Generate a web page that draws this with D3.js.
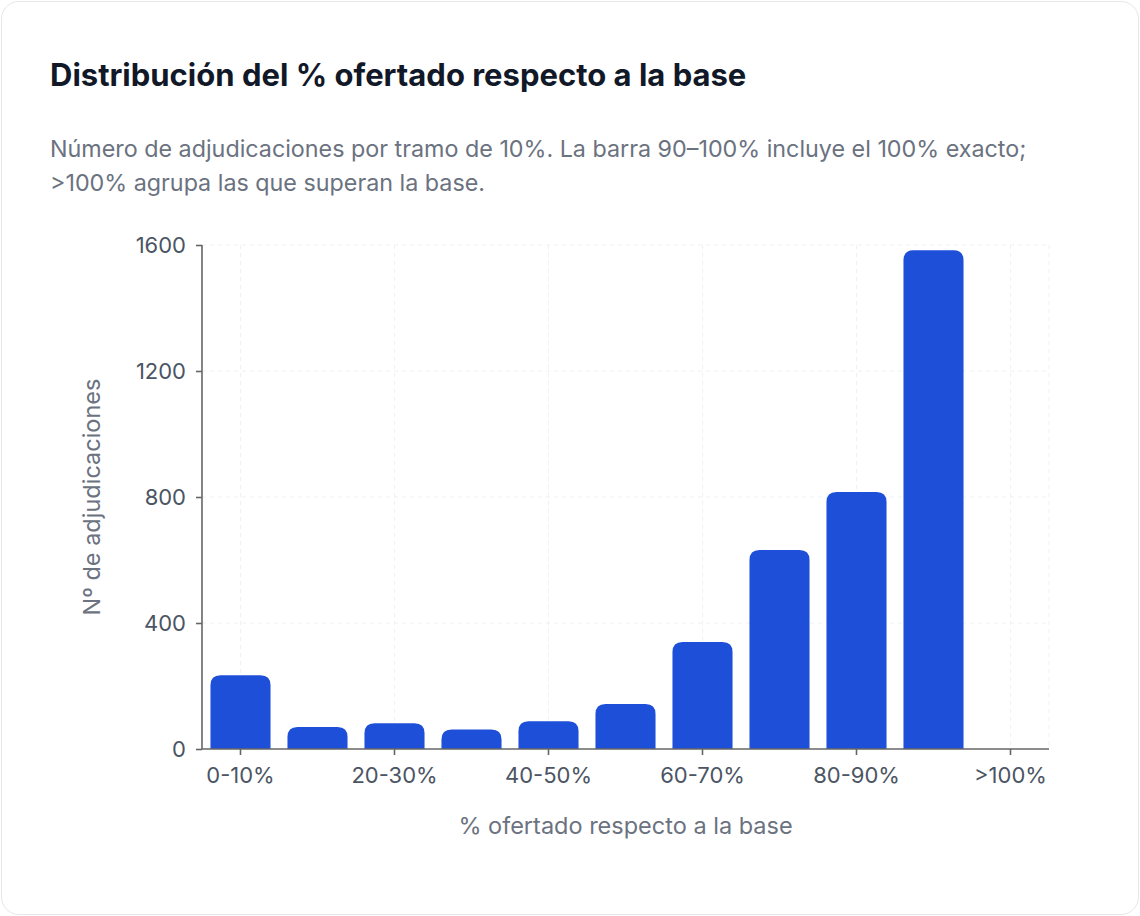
<!DOCTYPE html>
<html>
<head>
    <meta charset="utf-8">
    <title>Distribución del % ofertado</title>
    <script src="https://cdnjs.cloudflare.com/ajax/libs/d3/7.8.5/d3.min.js"></script>
</head>
<body>
<style>
    html, body {
        margin: 0;
        background: #fff;
        font-family: Inter, "Noto Sans", sans-serif;
    }
    .card {
        position: absolute;
        left: 1px; top: 1px;
        width: 1136px; height: 912px;
        border: 1px solid #e5e7eb;
        border-radius: 18px;
        background: #fff;
    }
    .axis text { font-family: Inter, sans-serif; }
</style>
<div class="card"></div>
<script>
    const categories = ["0-10%", "10-20%", "20-30%", "30-40%", "40-50%", "50-60%",
        "60-70%", "70-80%", "80-90%", "90-100%", ">100%"];
    const counts = [234, 70, 82, 62, 88, 143, 340, 632, 816, 1583, 0];
    const yTicks = [0, 400, 800, 1200, 1600];
    const shownLabels = ["0-10%", "20-30%", "40-50%", "60-70%", "80-90%", ">100%"];

    const W = 1140, H = 916;
    const margin = {left: 202, right: 91, top: 245, bottom: 167};

    const svg = d3.select("body").append("svg")
        .attr("width", W).attr("height", H)
        .style("position", "absolute").style("left", 0).style("top", 0);

    svg.append("text").attr("x", 50).attr("y", 86)
        .attr("font-size", 31).attr("font-weight", 700).attr("fill", "#111827")
        .text("Distribución del % ofertado respecto a la base");

    const sub = svg.append("text").attr("font-size", 23.3).attr("fill", "#6b7280");
    sub.append("tspan").attr("x", 50).attr("y", 157)
        .text("Número de adjudicaciones por tramo de 10%. La barra 90–100% incluye el 100% exacto;");
    sub.append("tspan").attr("x", 50).attr("y", 191)
        .text(">100% agrupa las que superan la base.");

    const x = d3.scaleBand().domain(categories)
        .range([margin.left, W - margin.right])
        .paddingInner(0.22).paddingOuter(0.11);
    const y = d3.scaleLinear().domain([0, 1600])
        .range([H - margin.bottom, margin.top]);

    const g = svg.append("g");

    // grid
    g.selectAll(".hgrid").data(yTicks.slice(1)).enter().append("line")
        .attr("x1", margin.left).attr("x2", W - margin.right)
        .attr("y1", d => y(d)).attr("y2", d => y(d))
        .attr("stroke", "#eef0f3").attr("stroke-dasharray", "4 4");
    g.selectAll(".vgrid").data(shownLabels).enter().append("line")
        .attr("x1", d => x(d) + x.bandwidth() / 2).attr("x2", d => x(d) + x.bandwidth() / 2)
        .attr("y1", margin.top).attr("y2", y(0))
        .attr("stroke", "#eef0f3").attr("stroke-dasharray", "4 4");
    g.append("line")
        .attr("x1", W - margin.right).attr("x2", W - margin.right)
        .attr("y1", margin.top).attr("y2", y(0))
        .attr("stroke", "#eef0f3").attr("stroke-dasharray", "4 4");

    // bars, rounded top only
    function barPath(d, i) {
        const x0 = x(categories[i]), w = x.bandwidth();
        const yTop = y(d), yBase = y(0);
        const r = Math.min(10, w / 2, yBase - yTop);
        if (yBase - yTop <= 0) return "";
        return `M${x0},${yBase}V${yTop + r}Q${x0},${yTop} ${x0 + r},${yTop}` +
            `H${x0 + w - r}Q${x0 + w},${yTop} ${x0 + w},${yTop + r}V${yBase}Z`;
    }
    g.selectAll(".bar").data(counts).enter().append("path")
        .attr("d", barPath)
        .attr("fill", "#1e4fd8");

    // axes
    const yAxis = g.append("g").attr("class", "axis")
        .attr("transform", `translate(${margin.left},0)`)
        .call(d3.axisLeft(y).tickValues(yTicks).tickFormat(d3.format("d")).tickSize(6).tickPadding(10));
    const xAxis = g.append("g").attr("class", "axis")
        .attr("transform", `translate(0,${y(0)})`)
        .call(d3.axisBottom(x).tickValues(shownLabels).tickSize(6).tickPadding(12));

    [yAxis, xAxis].forEach(a => {
        a.select(".domain").attr("stroke", "#666").attr("stroke-width", 1.6);
        a.selectAll(".tick line").attr("stroke", "#666").attr("stroke-width", 1.6);
        a.selectAll(".tick text").attr("fill", "#4b5563").attr("font-size", 22);
    });
    yAxis.select(".domain").attr("d", `M-0,${margin.top}H0V${y(0)}H0`);
    xAxis.select(".domain").attr("d", `M${margin.left},0H${W - margin.right}`);

    svg.append("text")
        .attr("transform", `translate(100,${(margin.top + y(0)) / 2}) rotate(-90)`)
        .attr("text-anchor", "middle").attr("font-size", 23.5).attr("fill", "#6b7280")
        .text("Nº de adjudicaciones");
    svg.append("text")
        .attr("x", (margin.left + W - margin.right) / 2).attr("y", 834)
        .attr("text-anchor", "middle").attr("font-size", 23.5).attr("fill", "#6b7280")
        .text("% ofertado respecto a la base");
</script>
</body>
</html>
